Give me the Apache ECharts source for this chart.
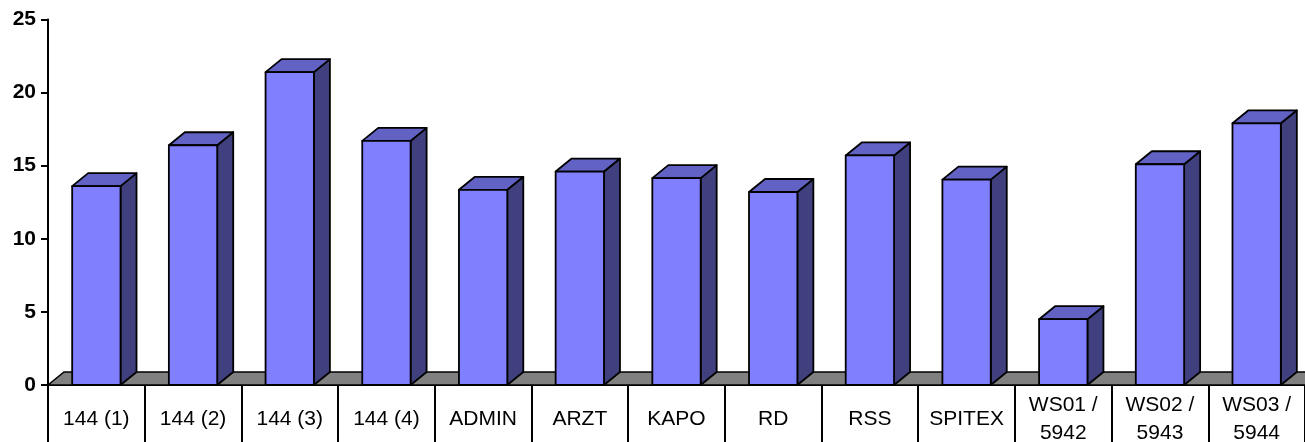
<!DOCTYPE html>
<html>
<head>
<meta charset="utf-8">
<script src="https://cdn.jsdelivr.net/npm/echarts@6/dist/echarts.min.js"></script>
<style>
html,body{margin:0;padding:0;background:#fff;}
#chart{width:1305px;height:442px;}
</style>
</head>
<body>
<div id="chart"></div>
<script>
const categories = ['144 (1)','144 (2)','144 (3)','144 (4)','ADMIN','ARZT','KAPO','RD','RSS','SPITEX','WS01 /\n5942','WS02 /\n5943','WS03 /\n5944'];
const values = [13.6,16.4,21.4,16.7,13.35,14.6,14.15,13.2,15.7,14.05,4.5,15.1,17.9];
const floorLevel = [0];

const DX = 16, DY = 13;
const FRONT = '#8080FF', SIDE = '#40407F', TOP = '#6262C4', FLOOR = '#808080';

const chart = echarts.init(document.getElementById('chart'), null, {renderer:'canvas'});

function renderBar(params, api){
  const i = api.value(0), v = api.value(1);
  const top = api.coord([i, v]);
  const base = api.coord([i, 0]);
  const w = api.size([1,0])[0]*0.5;
  const xl = top[0]-w/2, xr = top[0]+w/2;
  const yt = top[1], yb = base[1];
  const st = {stroke:'#000', lineWidth:1.8, lineJoin:'round'};
  return {type:'group', children:[
    {type:'polygon', shape:{points:[[xr,yb],[xr+DX,yb-DY],[xr+DX,yt-DY],[xr,yt]]}, style:Object.assign({fill:SIDE}, st)},
    {type:'polygon', shape:{points:[[xl,yt],[xl+DX,yt-DY],[xr+DX,yt-DY],[xr,yt]]}, style:Object.assign({fill:TOP}, st)},
    {type:'rect', shape:{x:xl, y:yt, width:w, height:yb-yt}, style:Object.assign({fill:FRONT}, st)}
  ]};
}

function renderFloor(params, api){
  const cs = params.coordSys;
  const y0 = api.coord([0, api.value(0)])[1];
  const x0 = cs.x, x1 = cs.x + cs.width + DX;
  return {type:'polygon', shape:{points:[[x0,y0],[x0+DX,y0-DY],[x1+DX,y0-DY],[x1,y0]]},
    style:{fill:FLOOR, stroke:'#000', lineWidth:1.6}};
}

const option = {
  animation:false,
  grid:{left:48, right:0, top:19.5, bottom:57, containLabel:false, outerBoundsMode:'none'},
  xAxis:{
    type:'category', data:categories,
    axisLine:{show:true, lineStyle:{color:'#000', width:2}},
    axisTick:{show:true, length:60, interval:0, lineStyle:{color:'#000', width:2}},
    axisLabel:{interval:0, margin:34, verticalAlign:'middle', lineHeight:28, fontSize:21, color:'#000', fontFamily:'"Liberation Sans", Arial, sans-serif'},
    splitLine:{show:false}
  },
  yAxis:{
    type:'value', min:0, max:25, interval:5,
    axisLine:{show:true, lineStyle:{color:'#000', width:2}},
    axisTick:{show:true, length:7, lineStyle:{color:'#000', width:2}},
    axisLabel:{margin:12, fontSize:21, fontWeight:'bold', color:'#000', fontFamily:'"Liberation Sans", Arial, sans-serif'},
    splitLine:{show:false}
  },
  series:[
    {type:'custom', z:1, renderItem:renderFloor, data:floorLevel.map(v=>[v]), encode:{y:0}, clip:false, silent:true},
    {type:'custom', z:2, renderItem:renderBar, data:values.map((v,i)=>[i,v]), encode:{x:0,y:1}, clip:false}
  ]
};
chart.setOption(option);
</script>
</body>
</html>
